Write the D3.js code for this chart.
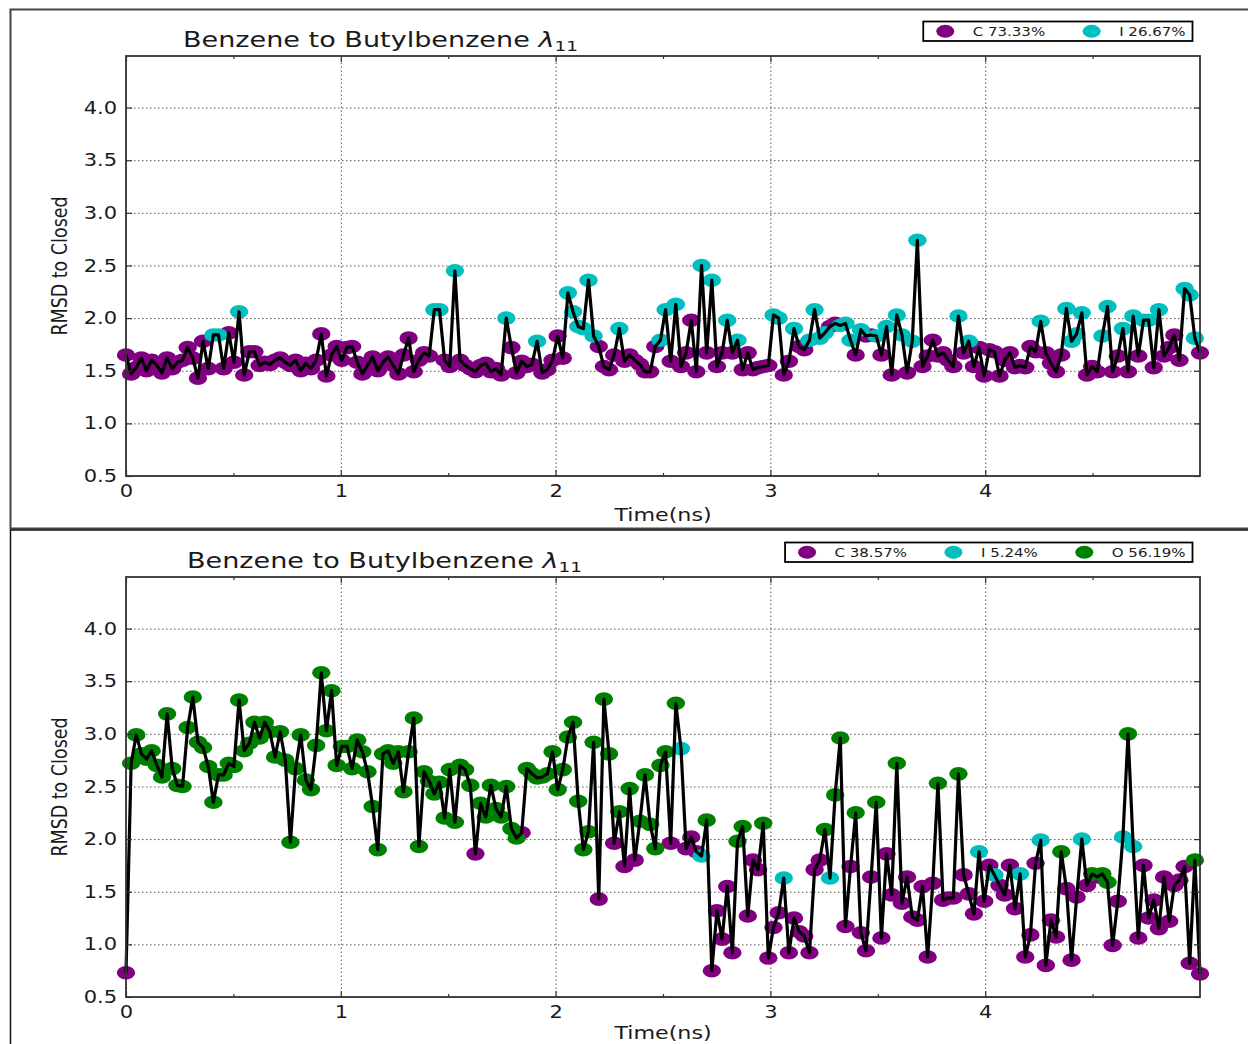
<!DOCTYPE html>
<html>
<head>
<meta charset="utf-8">
<script src="https://cdnjs.cloudflare.com/ajax/libs/d3/7.8.5/d3.min.js"></script>
<style>
	body { margin: 0; background: #fff; }
	svg text { font-family: "DejaVu Sans", sans-serif; fill: #1a1a1a; white-space: pre; }
</style>
</head>
<body>
<div id="chart"></div>
<script>
// ---- data (210 frames each, 0 - 5 ns) ----
const frameCount = 210;
const timeEnd = 5.0;

const rmsdTop = [
	1.65, 1.47, 1.53, 1.62, 1.50, 1.60, 1.55, 1.48, 1.62, 1.52,
	1.58, 1.60, 1.72, 1.62, 1.43, 1.78, 1.52, 1.84, 1.84, 1.52,
	1.86, 1.58, 2.06, 1.46, 1.68, 1.68, 1.55, 1.58, 1.56, 1.60,
	1.62, 1.58, 1.55, 1.60, 1.50, 1.57, 1.52, 1.60, 1.85, 1.45,
	1.65, 1.73, 1.60, 1.72, 1.73, 1.58, 1.47, 1.55, 1.63, 1.50,
	1.58, 1.63, 1.55, 1.47, 1.65, 1.81, 1.49, 1.60, 1.67, 1.64,
	2.08, 2.08, 1.60, 1.54, 2.45, 1.60, 1.55, 1.52, 1.49, 1.55,
	1.57, 1.49, 1.52, 1.46, 2.00, 1.72, 1.48, 1.59, 1.54, 1.56,
	1.78, 1.48, 1.51, 1.60, 1.83, 1.62, 2.24, 2.06, 1.92, 1.90,
	2.36, 1.83, 1.73, 1.54, 1.51, 1.65, 1.90, 1.59, 1.65, 1.60,
	1.56, 1.49, 1.49, 1.73, 1.79, 2.08, 1.59, 2.13, 1.54, 1.67,
	1.98, 1.49, 2.50, 1.67, 2.36, 1.54, 1.67, 1.98, 1.67, 1.79,
	1.51, 1.67, 1.51, 1.53, 1.54, 1.55, 2.03, 2.00, 1.46, 1.59,
	1.90, 1.73, 1.70, 1.79, 2.08, 1.81, 1.86, 1.92, 1.95, 1.93,
	1.95, 1.79, 1.65, 1.89, 1.83, 1.84, 1.83, 1.65, 1.92, 1.46,
	2.03, 1.84, 1.48, 1.78, 2.74, 1.54, 1.64, 1.79, 1.64, 1.67,
	1.60, 1.54, 2.02, 1.67, 1.78, 1.54, 1.72, 1.45, 1.70, 1.68,
	1.45, 1.60, 1.67, 1.53, 1.55, 1.53, 1.73, 1.68, 1.97, 1.67,
	1.57, 1.49, 1.65, 2.09, 1.78, 1.85, 2.05, 1.46, 1.54, 1.49,
	1.83, 2.11, 1.49, 1.64, 1.90, 1.49, 2.02, 1.64, 1.98, 1.98,
	1.53, 2.08, 1.64, 1.72, 1.84, 1.60, 2.28, 2.22, 1.81, 1.67
];

// C = closed, I = intermediate, O = open
const stateTop = (
	'CCCCCCCCCC' + 'CCCCCCCIIC' + 'CCICCCCCCC' + 'CCCCCCCCCC' + 'CCCCCCCCCC' +
	'CCCCCCCCCC' + 'IICCICCCCC' + 'CCCCICCCCC' + 'ICCCCCIIII' + 'IICCCCICCC' +
	'CCCCIICICC' + 'CCICICCICI' + 'CCCCCCIICC' + 'ICCIIIICCI' + 'IICICCICIC' +
	'IICIICCCCC' + 'CCICICCCCC' + 'CCCCCCCCIC' + 'CCCIIIICCC' + 'IICCICICII' +
	'CICCCCIIIC'
).split('');

const rmsdBottom = [
	0.73, 2.72, 2.99, 2.81, 2.76, 2.84, 2.70, 2.59, 3.19, 2.67,
	2.51, 2.50, 3.06, 3.35, 2.92, 2.87, 2.69, 2.35, 2.61, 2.61,
	2.72, 2.69, 3.32, 2.84, 2.91, 3.11, 2.96, 3.11, 3.02, 2.78,
	3.02, 2.75, 1.97, 2.67, 2.99, 2.56, 2.47, 2.89, 3.58, 3.03,
	3.41, 2.70, 2.88, 2.88, 2.67, 2.94, 2.83, 2.64, 2.31, 1.90,
	2.81, 2.84, 2.72, 2.83, 2.45, 2.83, 3.15, 1.93, 2.64, 2.55,
	2.43, 2.54, 2.20, 2.66, 2.16, 2.70, 2.66, 2.51, 1.86, 2.34,
	2.21, 2.51, 2.29, 2.21, 2.50, 2.10, 2.01, 2.06, 2.67, 2.62,
	2.58, 2.59, 2.62, 2.83, 2.47, 2.66, 2.97, 3.11, 2.36, 1.90,
	2.07, 2.92, 1.43, 3.33, 2.81, 1.96, 2.26, 1.74, 2.48, 1.80,
	2.17, 2.61, 2.14, 1.91, 2.70, 2.83, 1.96, 3.29, 2.86, 1.91,
	2.02, 1.88, 1.84, 2.18, 0.75, 1.32, 1.05, 1.55, 0.92, 1.98,
	2.12, 1.27, 1.80, 1.71, 2.15, 0.87, 1.16, 1.30, 1.63, 0.92,
	1.25, 1.12, 1.08, 0.92, 1.71, 1.80, 2.09, 1.63, 2.42, 2.96,
	1.17, 1.74, 2.25, 1.11, 0.94, 1.64, 2.35, 1.06, 1.86, 1.47,
	2.72, 1.39, 1.64, 1.26, 1.23, 1.55, 0.88, 1.58, 2.53, 1.42,
	1.44, 1.44, 2.62, 1.66, 1.48, 1.29, 1.88, 1.41, 1.75, 1.66,
	1.56, 1.47, 1.75, 1.34, 1.67, 0.88, 1.09, 1.77, 1.99, 0.80,
	1.23, 1.07, 1.88, 1.53, 0.85, 1.45, 2.00, 1.56, 1.67, 1.64,
	1.67, 1.59, 0.99, 1.41, 2.02, 3.00, 1.93, 1.06, 1.75, 1.25,
	1.42, 1.15, 1.64, 1.22, 1.56, 1.61, 1.74, 0.82, 1.80, 0.72
];

const stateBottom = (
	'COOOOOOOOO' + 'OOOOOOOOOO' + 'OOOOOOOOOO' + 'OOOOOOOOOO' + 'OOOOOOOOOO' +
	'OOOOOOOOOO' + 'OOOOOOOOCO' + 'OOOOOOOCOO' + 'OOOOOOOOOO' + 'OOCOOCOCOC' +
	'OOOOOOCOIC' + 'CCIOCCCCCO' + 'OCCCOCCCIC' + 'CCCCCCOIOO' + 'CCOCCCOCCC' +
	'OCCCCCCCOC' + 'CCOCCCICCI' + 'CCCCICCCIC' + 'CCOCCCICOC' + 'OOCCIOICCC' +
	'CCCCCCCCOC'
).split('');

const legendTop = [
	{state: 'C', label: 'C 73.33%'},
	{state: 'I', label: 'I 26.67%'}
];
const legendBottom = [
	{state: 'C', label: 'C 38.57%'},
	{state: 'I', label: 'I 5.24%'},
	{state: 'O', label: 'O 56.19%'}
];

const xTicks = [0, 1, 2, 3, 4];
const xMinorTicks = [0.5, 1.5, 2.5, 3.5, 4.5];
const yTicks = [0.5, 1.0, 1.5, 2.0, 2.5, 3.0, 3.5, 4.0];

const stateColor = {C: '#800080', I: '#00bfbf', O: '#008000'};

// ---- layout ----
let svgWidth = 1248;
let svgHeight = 1044;
let textStretch = 1.2; // the source picture is widened horizontally

let xScale = d3.scaleLinear()
		.domain([0, timeEnd])
		.range([126, 1200]);

let yScale = d3.scaleLinear()
		.domain([0.5, 4.49])
		.range([476, 56]);

let timeOf = i => i * timeEnd / (frameCount - 1);

let lineGen = d3.line()
		.x((d, i) => xScale(timeOf(i)))
		.y(d => yScale(d));

let svg = d3.select('#chart')
		.append('svg')
		.attr('width', svgWidth)
		.attr('height', svgHeight);

svg.append('rect')
		.attr('width', svgWidth)
		.attr('height', svgHeight)
		.attr('fill', '#fff');

/**
 * Widen every text of a selection the way the screenshot is widened.
 */
function widen(sel, sx) {
	sel.each(function() {
		let t = d3.select(this);
		let x = +t.attr('x') || 0;
		t.attr('x', x / sx).attr('transform', `scale(${sx},1)`);
	});
}

/**
 * Draw one panel (frame, axes, trace, title, legend).
 */
function drawPanel(values, states, legend, titleX, shift, xLabelY) {
	let g = svg.append('g').attr('transform', `translate(0,${shift})`);

	// screenshot frame
	g.append('rect')
			.attr('x', 10.5)
			.attr('y', 9.5 + (shift ? -0.5 : 0))
			.attr('width', 1300)
			.attr('height', shift ? 700 : 519)
			.attr('fill', 'none')
			.attr('stroke', shift ? '#111' : '#444')
			.attr('stroke-width', shift ? 1.5 : 2);

	let [y0, y1] = yScale.range();
	let [x0, x1] = xScale.range();

	// dotted grid
	g.append('g')
			.attr('transform', `translate(0,${y0})`)
			.call(d3.axisBottom(xScale).tickValues(xTicks).tickSize(-(y0 - y1)).tickFormat(''))
			.call(a => a.select('.domain').remove())
			.selectAll('line')
			.attr('stroke', '#555')
			.attr('stroke-dasharray', '1.5,2.5');

	g.append('g')
			.attr('transform', `translate(${x0},0)`)
			.call(d3.axisLeft(yScale).tickValues(yTicks).tickSize(-(x1 - x0)).tickFormat(''))
			.call(a => a.select('.domain').remove())
			.selectAll('line')
			.attr('stroke', '#555')
			.attr('stroke-dasharray', '1.5,2.5');

	// markers by state, then the black trace over them
	let pts = values.map((v, i) => ({t: timeOf(i), v: v, s: states[i]}));
	['C', 'I', 'O'].forEach(s => {
		g.append('g')
				.selectAll('ellipse')
				.data(pts.filter(p => p.s === s))
				.enter()
				.append('ellipse')
				.attr('cx', p => xScale(p.t))
				.attr('cy', p => yScale(p.v))
				.attr('rx', 9.2)
				.attr('ry', 6.8)
				.attr('fill', stateColor[s]);
	});

	g.append('path')
			.datum(values)
			.attr('d', lineGen)
			.attr('fill', 'none')
			.attr('stroke', '#000')
			.attr('stroke-width', 3.2)
			.attr('stroke-linejoin', 'round');

	// spines and inward ticks
	g.append('rect')
			.attr('x', x0)
			.attr('y', y1)
			.attr('width', x1 - x0)
			.attr('height', y0 - y1)
			.attr('fill', 'none')
			.attr('stroke', '#333')
			.attr('stroke-width', 1.8);

	let tickStyle = a => {
		a.select('.domain').remove();
		a.selectAll('line').attr('stroke', '#333').attr('stroke-width', 1.2);
		a.selectAll('text').attr('fill', '#1a1a1a').style('font-size', '17.5px').style('font-family', '"DejaVu Sans", sans-serif');
	};

	let xAxis = g.append('g')
			.attr('transform', `translate(0,${y0})`)
			.call(d3.axisBottom(xScale).tickValues(xTicks).tickSize(-6).tickPadding(9).tickFormat(d3.format('d')))
			.call(tickStyle);
	widen(xAxis.selectAll('text'), textStretch);

	g.append('g')
			.attr('transform', `translate(0,${y0})`)
			.call(d3.axisBottom(xScale).tickValues(xMinorTicks).tickSize(-3).tickFormat(''))
			.call(tickStyle);
	g.append('g')
			.attr('transform', `translate(0,${y1})`)
			.call(d3.axisTop(xScale).tickValues(xTicks).tickSize(-6).tickFormat(''))
			.call(tickStyle);
	g.append('g')
			.attr('transform', `translate(0,${y1})`)
			.call(d3.axisTop(xScale).tickValues(xMinorTicks).tickSize(-3).tickFormat(''))
			.call(tickStyle);

	let yAxis = g.append('g')
			.attr('transform', `translate(${x0},0)`)
			.call(d3.axisLeft(yScale).tickValues(yTicks).tickSize(-6).tickPadding(9).tickFormat(d3.format('.1f')))
			.call(tickStyle);
	widen(yAxis.selectAll('text'), textStretch);

	g.append('g')
			.attr('transform', `translate(${x1},0)`)
			.call(d3.axisRight(yScale).tickValues(yTicks).tickSize(-6).tickFormat(''))
			.call(tickStyle);

	// axis labels
	g.append('text')
			.attr('transform', `translate(${(x0 + x1) / 2},${xLabelY}) scale(${textStretch},1)`)
			.attr('text-anchor', 'middle')
			.style('font-size', '18.5px')
			.text('Time(ns)');

	g.append('text')
			.attr('transform', `translate(59,${(y0 + y1) / 2}) scale(${textStretch},1) rotate(-90)`)
			.attr('text-anchor', 'middle')
			.attr('dy', '0.36em')
			.style('font-size', '17.5px')
			.text('RMSD to Closed');

	// title with lambda_11
	let title = g.append('text')
			.style('font-size', '20.5px');
	title.append('tspan').text('Benzene to Butylbenzene ');
	title.append('tspan').style('font-style', 'italic').text('λ');
	title.append('tspan').attr('dy', 4).style('font-size', '14px').text('11');
	let titleLen = title.node().getComputedTextLength();
	title.attr('transform', `translate(${titleX},47) scale(${395 / titleLen},1)`);

	// legend, right aligned in its box
	let lg = g.append('g');
	let box = lg.append('rect');
	let cursor = 0;
	let boxTop = 21.5;
	let boxH = 19.5;
	legend.forEach((e, k) => {
		let mx = cursor + 22;
		lg.append('ellipse')
				.attr('cx', mx)
				.attr('cy', boxTop + boxH / 2)
				.attr('rx', 9)
				.attr('ry', 6.5)
				.attr('fill', stateColor[e.state]);
		let t = lg.append('text')
				.attr('transform', `translate(${mx + 27.5},${boxTop + boxH / 2}) scale(${textStretch},1)`)
				.attr('dy', '0.36em')
				.style('font-size', '12.5px')
				.text(e.label);
		let w = t.node().getComputedTextLength() * textStretch;
		cursor = mx + 27.5 + w + 46.5 - 22;
	});
	let boxW = cursor - 46.5 + 22 + 7;
	box.attr('x', 0)
			.attr('y', boxTop)
			.attr('width', boxW)
			.attr('height', boxH)
			.attr('fill', '#fff')
			.attr('stroke', '#000')
			.attr('stroke-width', 1.8);
	lg.attr('transform', `translate(${1192.5 - boxW},0)`);
}

drawPanel(rmsdTop, stateTop, legendTop, 183, 0, 521);
// the lower label sits at the very bottom of the picture; keep it inside
drawPanel(rmsdBottom, stateBottom, legendBottom, 187, 521, 518);
</script>
</body>
</html>
